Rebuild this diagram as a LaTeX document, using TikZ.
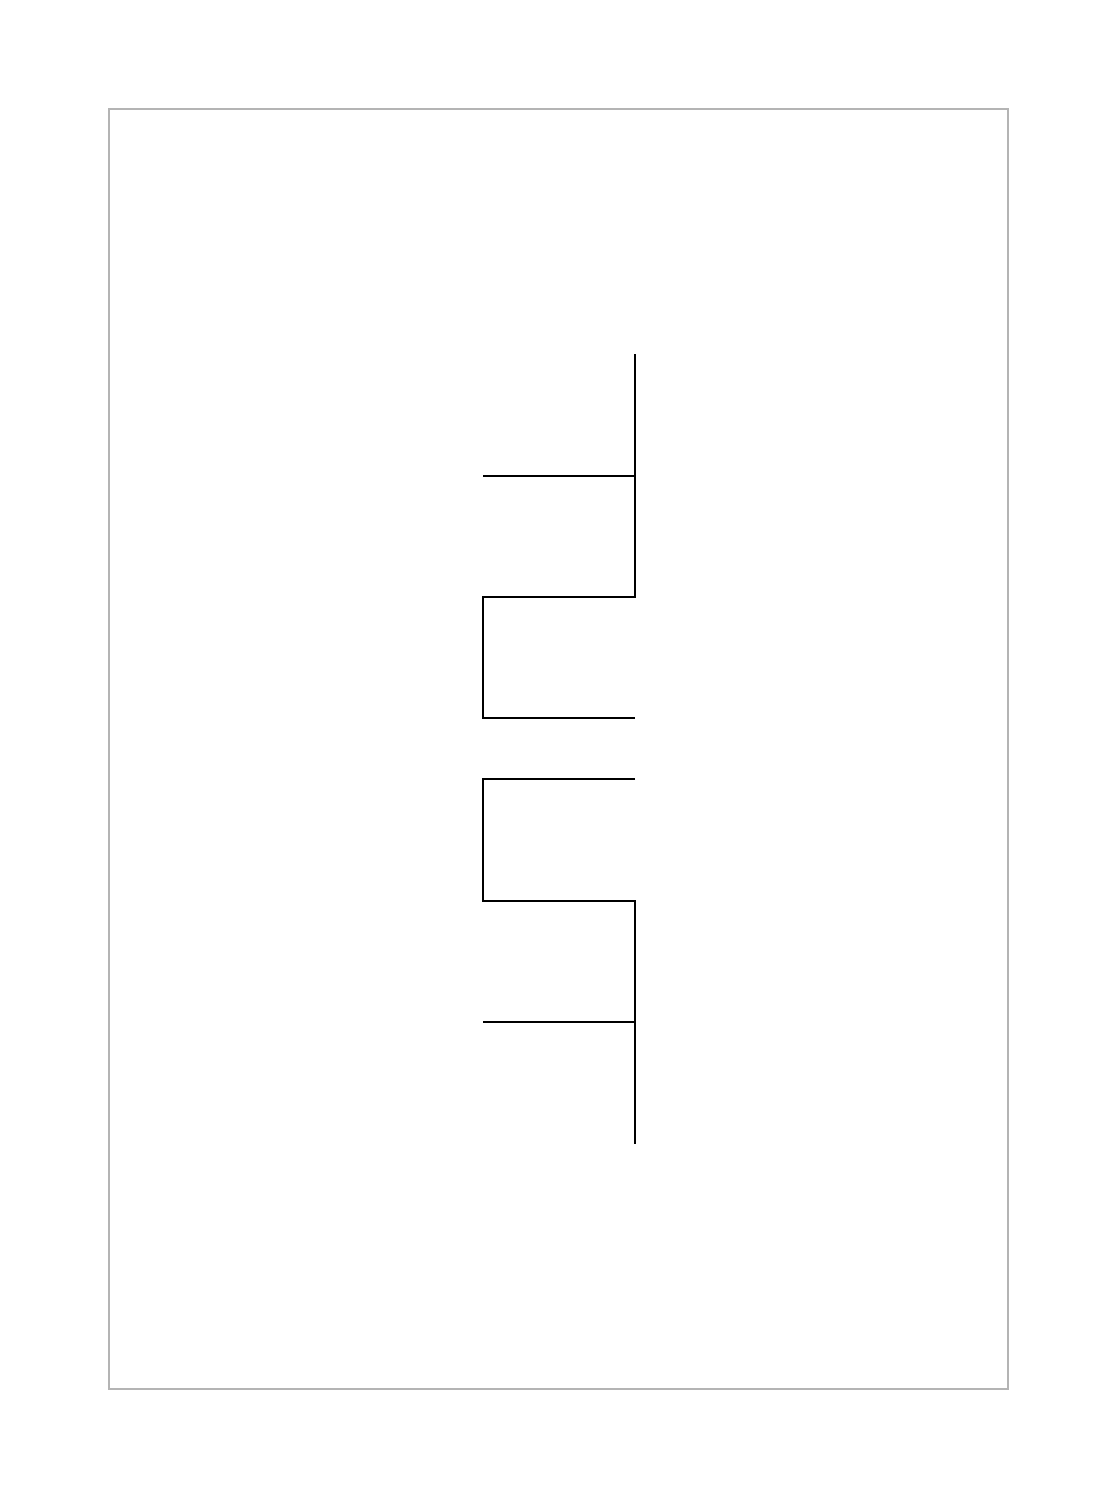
\documentclass[tikz,border=0pt]{standalone}
\usepackage{xcolor}
\usepackage{tikz}
\usetikzlibrary{calc}
\definecolor{pframe}{HTML}{B4B4B4}

\begin{document}
\begin{tikzpicture}[x=0.02cm,y=-0.02cm,
    frame/.style={draw=pframe,line width=0.8pt},
    wire/.style={draw=black,line width=1.1pt,line join=miter}]
      \useasboundingbox (0,0) rectangle (1117,1498);
      \draw[frame] (109,109) rectangle (1008,1389);
      % upper half
      \coordinate (topend) at (635,354);
      \coordinate (tapA) at (635,476);
      \coordinate (tapAl) at (483,476);
      \coordinate (kneeA) at (635,597);
      \coordinate (kneeAl) at (483,597);
      \coordinate (endAl) at (483,718);
      \coordinate (endA) at (635,718);
      % lower half
      \coordinate (endB) at (635,779);
      \coordinate (endBl) at (483,779);
      \coordinate (kneeBl) at (483,901);
      \coordinate (kneeB) at (635,901);
      \coordinate (tapB) at (635,1022);
      \coordinate (tapBl) at (483,1022);
      \coordinate (botend) at (635,1144);
      \draw[wire] (topend) -- (kneeA) -- (kneeAl) -- (endAl) -- (endA);
      \draw[wire] (tapAl) -- (tapA);
      \draw[wire] (endB) -- (endBl) -- (kneeBl) -- (kneeB) -- (botend);
      \draw[wire] (tapBl) -- (tapB);
    \end{tikzpicture}
\end{document}
